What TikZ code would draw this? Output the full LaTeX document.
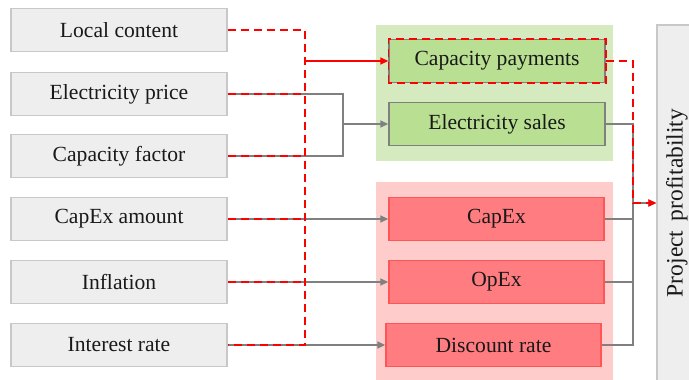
\documentclass[tikz,border=0pt]{standalone}
\usepackage{fontspec}
\setmainfont{Liberation Serif}
\usetikzlibrary{arrows.meta,calc}
\definecolor{lfill}{RGB}{238,238,238}
\definecolor{ldraw}{RGB}{200,200,200}
\definecolor{gbg}{RGB}{214,234,192}
\definecolor{gbox}{RGB}{185,224,146}
\definecolor{rbg}{RGB}{255,204,204}
\definecolor{rbox}{RGB}{255,124,128}
\definecolor{rdraw}{RGB}{255,85,85}
\definecolor{gline}{RGB}{128,128,128}
\definecolor{txt}{RGB}{25,25,25}
\tikzset{
  x=1pt, y=-1pt,
  box/.style={draw, line width=1.4pt, inner sep=0pt, minimum width=216pt, minimum height=43pt, text=txt, font=\fontsize{21.6}{24}\selectfont},
  inbox/.style={box, fill=lfill, draw=ldraw},
  gbx/.style={box, fill=gbox, draw=gline},
  rbx/.style={box, fill=rbox, draw=rdraw, minimum width=215pt},
  gl/.style={draw=gline, line width=1.5pt},
  ga/.style={gl, -{Triangle[length=8pt,width=7pt]}},
  rd/.style={draw=red, line width=1.6pt, dash pattern=on 8pt off 5pt},
  ra/.style={draw=red, line width=1.6pt, -{Triangle[length=8pt,width=7pt]}},
  rda/.style={rd, -{Triangle[length=8pt,width=7pt]}, red},
}
\begin{document}
\begin{tikzpicture}
\clip (0,0) rectangle (689,380);
\fill[white] (0,0) rectangle (689,380);
% backgrounds
\fill[gbg] (376,25) rectangle (613,161);
\fill[rbg] (376,182) rectangle (613,385);
% input boxes
\node[inbox] (lc)  at (119,30)  {Local content};
\node[inbox] (ep)  at (119,94)  {Electricity price};
\node[inbox] (cf)  at (119,156) {Capacity factor};
\node[inbox] (ce)  at (119,219) {CapEx amount};
\node[inbox] (inf) at (119,282) {Inflation};
\node[inbox] (ir)  at (119,345) {Interest rate};
% middle boxes
\node[gbx] (cp) at (497,61)  {Capacity payments};
\node[gbx] (es) at (497,124) {Electricity sales};
\node[rbx] (cx) at (496.5,219) {CapEx};
\node[rbx] (ox) at (496.5,282) {OpEx};
\node[rbx] (dr) at (493.5,345) {Discount rate};
% output box
\node[draw=ldraw, fill=lfill, line width=1.4pt, inner sep=0pt, minimum width=40pt, minimum height=356pt, text=txt, font=\fontsize{23.5}{26}\selectfont] (pp) at (677,203) {\rotatebox{90}{Project\hspace{0.4em}profitability}};
% junction coordinates
\coordinate (jg) at (343,124);
\coordinate (jo) at (633,203);
\coordinate (jr1) at (305,61);
\coordinate (jrb) at (305,345);
% gray connectors
\draw[gl] (ep.east) -| (jg) |- (cf.east);
\draw[ga] (jg) -- (es.west);
\draw[ga] (ce.east) -- (cx.west);
\draw[ga] (inf.east) -- (ox.west);
\draw[ga] (ir.east) -- (dr.west);
\draw[gl] (es.east) -| (jo) |- (dr.east);
\draw[gl] (cx.east) -- (cx.east -| jo);
\draw[gl] (ox.east) -- (ox.east -| jo);
\draw[ga] (jo) -- (pp.west);
% red connectors
\draw[rd] (lc.east) -| (jrb) -- (ir.east);
\draw[rd] (ep.east) -- (ep.east -| jrb);
\draw[rd] (cf.east) -- (cf.east -| jrb);
\draw[rd] (ce.east) -- (ce.east -| jrb);
\draw[rd] (inf.east) -- (inf.east -| jrb);
\draw[ra] (jr1) -- (cp.west);
\draw[rd] (cp.south west) rectangle (cp.north east);
\draw[rd] (cp.east) -| (jo);
\draw[rda] (jo) -- (pp.west);
\end{tikzpicture}
\end{document}
